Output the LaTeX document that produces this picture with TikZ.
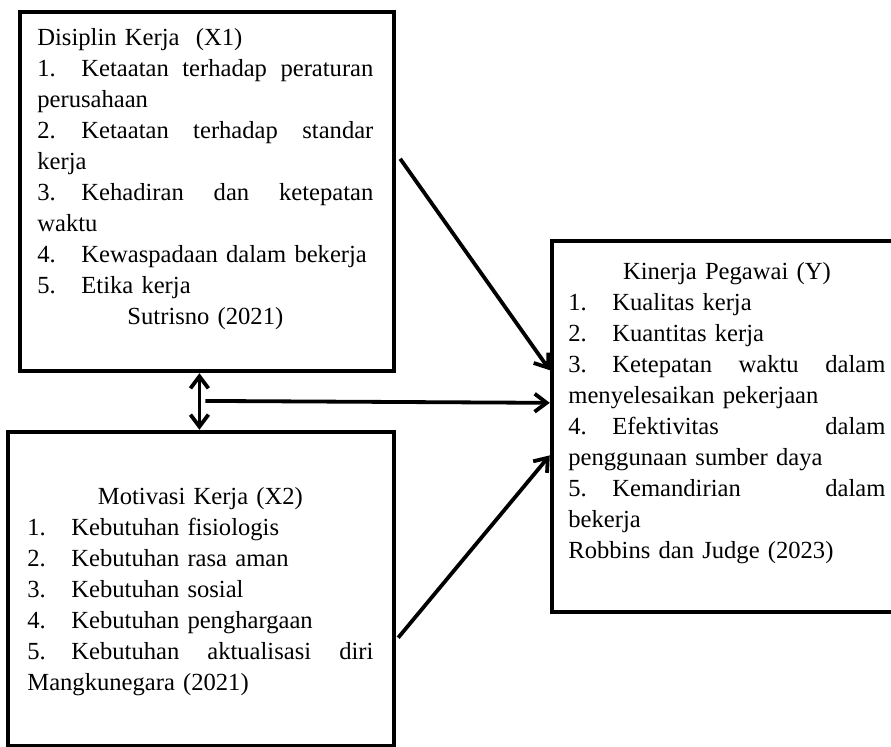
\documentclass[tikz,border=0pt]{standalone}
\usepackage{fontspec}
\setmainfont{Liberation Serif}
\usetikzlibrary{arrows.meta,calc}

\newcommand{\nr}[1]{\makebox[22pt][l]{#1}}
\newcommand{\ctr}[1]{\hfill#1\hfill\mbox{}}

\begin{document}
\begin{tikzpicture}[x=0.5pt,y=-0.5pt,
  frame/.style={draw,line width=2.2pt,inner sep=0pt},
  txt/.style={anchor=base west,inner sep=0pt,align=left,font=\fontsize{12.3}{15.5}\selectfont},
  link/.style={line width=1.9pt,-{Straight Barb[length=6pt,width=9pt]}},
  dlink/.style={line width=1.9pt,{Straight Barb[length=6pt,width=9pt]}-{Straight Barb[length=6pt,width=9pt]}}]
\clip (0,0) rectangle (891,747);
\node[frame,minimum width=187pt,minimum height=179.5pt] (disiplin) at (207,191.5) {};
\node[frame,minimum width=193pt,minimum height=157pt] (motivasi) at (201,589) {};
\node[frame,minimum width=172.5pt,minimum height=185.5pt] (kinerja) at (724.5,426.5) {};
\node[txt,text width=168pt] (tx1) at (37,46) {Disiplin Kerja~~(X1)\\
\nr{1.}Ketaatan\hfill terhadap\hfill peraturan\\
perusahaan\\
\nr{2.}Ketaatan\hfill terhadap\hfill standar\\
kerja\\
\nr{3.}Kehadiran\hfill dan\hfill ketepatan\\
waktu\\
\nr{4.}Kewaspadaan dalam bekerja\\
\nr{5.}Etika kerja\\
\ctr{Sutrisno (2021)}};
\node[txt,text width=173pt] (tx2) at (27,505) {\ctr{Motivasi Kerja (X2)}\\
\nr{1.}Kebutuhan fisiologis\\
\nr{2.}Kebutuhan rasa aman\\
\nr{3.}Kebutuhan sosial\\
\nr{4.}Kebutuhan penghargaan\\
\nr{5.}Kebutuhan\hfill aktualisasi\hfill diri\\
Mangkunegara (2021)};
\node[txt,text width=158.5pt] (ty) at (568,280) {\ctr{Kinerja Pegawai (Y)}\\
\nr{1.}Kualitas kerja\\
\nr{2.}Kuantitas kerja\\
\nr{3.}Ketepatan\hfill waktu\hfill dalam\\
menyelesaikan pekerjaan\\
\nr{4.}Efektivitas\hfill dalam\\
penggunaan sumber daya\\
\nr{5.}Kemandirian\hfill dalam\\
bekerja\\
Robbins dan Judge (2023)};
\coordinate (top) at ($(disiplin.south west)!0.48!(disiplin.south east)$);
\draw[link] ($(disiplin.north east)!0.41!(disiplin.south east)+(2pt,0)$) -- ($(kinerja.north west)!0.35!(kinerja.south west)$);
\draw[dlink] (top) -- (top |- motivasi.north);
\draw[link] ($(top)!0.49!(top |- motivasi.north)+(3pt,0)$) -- ($(kinerja.north west)!0.437!(kinerja.south west)$);
\draw[link] ($(motivasi.north east)!0.653!(motivasi.south east)+(1pt,0)$) -- ($(kinerja.north west)!0.577!(kinerja.south west)$);
\end{tikzpicture}
\end{document}
